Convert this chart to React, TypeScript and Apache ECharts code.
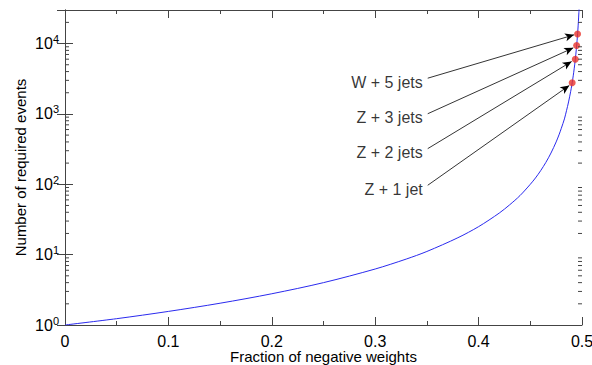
import React, { useEffect, useRef } from "react";
import * as echarts from "echarts";

// Curve: fraction of negative weights -> required events
const fractions = [0, 0.05, 0.1, 0.15, 0.2, 0.25, 0.3, 0.33, 0.35, 0.38, 0.4, 0.42, 0.43, 0.44, 0.45, 0.455, 0.46, 0.465, 0.47, 0.475, 0.478, 0.48, 0.483, 0.485, 0.487, 0.489, 0.49, 0.491, 0.492, 0.493, 0.494, 0.495, 0.4955, 0.496, 0.4965, 0.497, 0.4973];
const events = [1, 1.23, 1.56, 2.04, 2.78, 4.0, 6.25, 8.65, 11.1, 17.4, 25, 39, 51, 69, 100, 123, 156, 204, 278, 400, 516, 625, 850, 1110, 1480, 2070, 2500, 3090, 3910, 5100, 6940, 10000, 12350, 15600, 20400, 27800, 34000];

// Highlighted processes
const annoLabels = ["W + 5 jets", "Z + 3 jets", "Z + 2 jets", "Z + 1 jet"];
const annoPointX = [0.4957, 0.4948, 0.4935, 0.4905];
const annoPointY = [13700, 9400, 6000, 2770];
// label anchor (start of arrow) and arrow tip, in data units
const annoTextX = [0.3508, 0.3508, 0.3508, 0.3508];
const annoTextY = [3220, 1006, 321, 96.8];
const annoTipX = [0.4923, 0.4916, 0.49, 0.4877];
const annoTipY = [13300, 8690, 5560, 2540];

const xMin = 0;
const xMax = 0.5;
const xTicks = [0, 0.1, 0.2, 0.3, 0.4, 0.5];
const yMin = 1;
const yMax = 30000;

const minorYTicks: number[] = [];
for (let d = 1; d <= 10000; d *= 10) {
  for (let m = 2; m <= 9; m++) {
    if (m * d < yMax) minorYTicks.push(m * d);
  }
}

const FONT = "Liberation Sans";
const AXIS_COLOR = "#444";

export default function App() {
  const ref = useRef<HTMLDivElement>(null);
  useEffect(() => {
    if (!ref.current) return;
    const chart = echarts.init(ref.current, undefined, { renderer: "svg" });
    const fmtX = (v: number) => {
      const s = xTicks.find((t) => Math.abs(t - v) < 1e-9);
      return s === undefined ? "" : String(s);
    };
    const fmtY = (v: number) => {
      const e = Math.log10(v);
      if (Math.abs(e - Math.round(e)) > 1e-6) return "";
      return "{b|10}{s|" + Math.round(e) + "}";
    };
    const xCommon = {
      type: "value" as const,
      min: xMin,
      max: xMax,
      interval: 0.1,
      axisLine: { show: true, lineStyle: { color: AXIS_COLOR, width: 1 } },
      axisTick: { show: true, inside: true, length: 8, lineStyle: { color: AXIS_COLOR } },
      minorTick: { show: true, splitNumber: 2, length: 4, lineStyle: { color: AXIS_COLOR } },
      splitLine: { show: false },
    };
    const yCommon = {
      type: "log" as const,
      logBase: 10,
      min: yMin,
      max: yMax,
      axisLine: { show: true, lineStyle: { color: AXIS_COLOR, width: 1 } },
      axisTick: { show: true, inside: true, length: 8, lineStyle: { color: AXIS_COLOR } },
      splitLine: { show: false },
    };
    chart.setOption({
      animation: false,
      backgroundColor: "#fff",
      grid: { left: 65, right: 10, top: 10, bottom: 40, containLabel: false, outerBoundsMode: "none" },
      xAxis: [
        {
          ...xCommon,
          position: "bottom",
          name: "Fraction of negative weights",
          nameLocation: "middle",
          nameGap: 24,
          nameMoveOverlap: false,
          nameTextStyle: { fontFamily: FONT, fontSize: 15, color: "#000" },
          axisLabel: { formatter: fmtX, fontFamily: FONT, fontSize: 16, color: "#000", margin: 8 },
        },
        {
          ...xCommon,
          position: "top",
          axisLabel: { show: false },
        },
      ],
      yAxis: [
        {
          ...yCommon,
          position: "left",
          name: "Number of required events",
          nameLocation: "middle",
          nameGap: 37,
          nameMoveOverlap: false,
          nameTextStyle: { fontFamily: FONT, fontSize: 15, color: "#000" },
          axisLabel: {
            formatter: fmtY,
            margin: 6,
            color: "#000",
            rich: {
              b: { fontFamily: FONT, fontSize: 16, color: "#000" },
              s: { fontFamily: FONT, fontSize: 11, color: "#000", padding: [0, 0, 9, 0] },
            },
          },
        },
        {
          ...yCommon,
          position: "right",
          axisLabel: { show: false },
        },
      ],
      series: [
        {
          type: "line",
          data: fractions.map((f, i) => [f, events[i]]),
          showSymbol: false,
          smooth: 0.3,
          clip: true,
          lineStyle: { color: "#2a2aee", width: 1 },
          silent: true,
        },
        {
          type: "scatter",
          data: annoTextX.map((x, i) => ({ value: [x, annoTextY[i]], name: annoLabels[i] })),
          symbolSize: 0,
          silent: true,
          label: {
            show: true,
            position: "left",
            distance: 5,
            offset: [0, 4],
            formatter: (p: any) => p.name,
            fontFamily: FONT,
            fontSize: 16,
            color: "#000",
          },
          markLine: {
            silent: true,
            symbol: ["none", "arrow"],
            symbolSize: [6, 9],
            label: { show: false },
            lineStyle: { color: "#000", width: 0.8, type: "solid" },
            data: annoTextX.map((x, i) => [
              { coord: [x, annoTextY[i]] },
              { coord: [annoTipX[i], annoTipY[i]] },
            ]),
          },
        },
        {
          type: "scatter",
          data: annoPointX.map((x, i) => [x, annoPointY[i]]),
          symbolSize: 7,
          itemStyle: { color: "#e8322b" },
          silent: true,
          z: 5,
        },
      ],
    });
    // minor log ticks (2..9 per decade) placed through the axis scale
    const tickEls: any[] = [];
    minorYTicks.forEach((v) => {
      const pl = chart.convertToPixel({ gridIndex: 0 }, [xMin, v]) as number[];
      const pr = chart.convertToPixel({ gridIndex: 0 }, [xMax, v]) as number[];
      if (!pl || !pr) return;
      tickEls.push({ type: "line", silent: true, z: 100, shape: { x1: pl[0], y1: pl[1], x2: pl[0] + 4, y2: pl[1] }, style: { stroke: AXIS_COLOR, lineWidth: 1 } });
      tickEls.push({ type: "line", silent: true, z: 100, shape: { x1: pr[0], y1: pr[1], x2: pr[0] - 4, y2: pr[1] }, style: { stroke: AXIS_COLOR, lineWidth: 1 } });
    });
    chart.setOption({ graphic: { elements: tickEls } });
    return () => chart.dispose();
  }, []);
  return <div ref={ref} style={{ width: 592, height: 365, position: "absolute", left: 0, top: 0 }} />;
}
